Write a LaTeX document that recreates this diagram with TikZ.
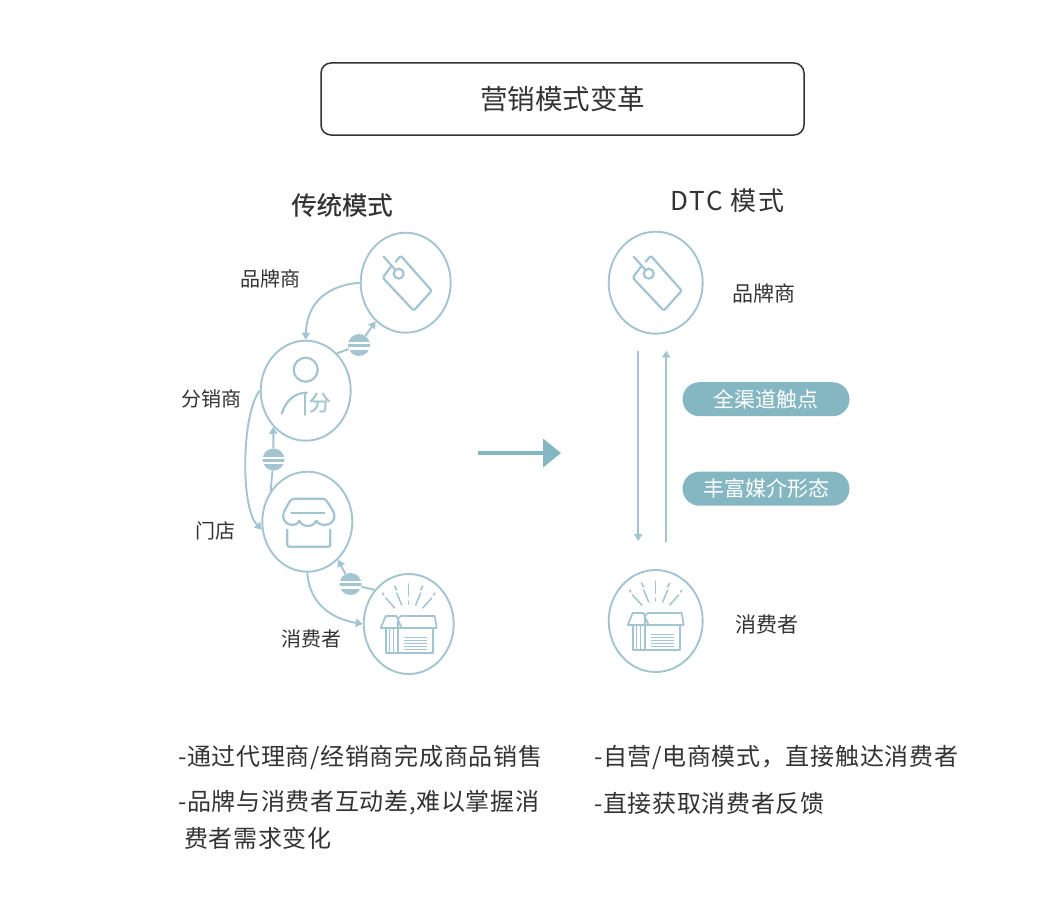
\documentclass[tikz,border=0pt]{standalone}
\usepackage{fontspec}
\setmainfont{Noto Sans CJK SC}
\newfontfamily\spaced[LetterSpace=2.8]{Noto Sans CJK SC}
\newfontfamily\wide[LetterSpace=7.3]{Noto Sans CJK SC}
\newfontfamily\fat[FakeBold=0.4]{Noto Sans CJK SC}
\usetikzlibrary{shapes.geometric,shapes.misc,arrows.meta,calc}
\definecolor{linecol}{HTML}{A3C4D1}
\definecolor{teal}{HTML}{85B7C2}
\definecolor{ink}{HTML}{333333}
\newcommand{\fs}[1]{\fontsize{#1}{#1}\selectfont}
\tikzset{
  disc/.style={ellipse,draw=linecol,line width=1.9pt,minimum width=90pt,minimum height=100pt,inner sep=0pt,fill=white},
  discR/.style={disc,minimum width=94pt,minimum height=102pt},
  conn/.style={draw=linecol,line width=1.9pt},
  head/.style={conn,-{Triangle[length=7pt,width=8pt]}},
  badge/.style={circle,fill=linecol,minimum size=22pt,inner sep=0pt,
    path picture={
      \begin{scope}[shift={(path picture bounding box.center)},rotate=#1]
      \fill[white] (-12pt,0.6pt) rectangle (12pt,2.9pt);
      \fill[white] (-12pt,-4.5pt) rectangle (12pt,-2.2pt);
      \end{scope}}},
  lab/.style={text=ink,inner sep=0pt,font=\fs{20}},
  labR/.style={text=ink,inner sep=0pt,font=\fs{21}},
  pill/.style={rounded rectangle,fill=teal,text=white,minimum width=167pt,minimum height=34pt,inner sep=0pt,font=\fs{21}},
  bodytxt/.style={text=ink,inner sep=0pt,anchor=west,font=\fs{24}\spaced},
  ic/.style={draw=linecol,line width=2.2pt,line join=round,line cap=round},
  icthin/.style={draw=linecol,line width=1.1pt,line join=round},
  tagicon/.pic={
    \draw[ic,rounded corners=1.5pt] (-14,-17) -- (-23,-5) -- (8,28) -- (26,8) -- (-5,-27) -- (-10,-21);
    \draw[ic] (-7,-9) circle (5);
    \draw[ic] (-22,-26) -- (-10.5,-13);
  },
  personicon/.pic={
    \draw[ic] (0,-21) circle (12);
    \draw[ic] (-24,23) .. controls (-20,10) and (-11,2) .. (1,2);
    \draw[ic] (-1,3) -- (-1,24);
    \node[inner sep=0pt,text=linecol,font=\fs{22}\fat] (fen) at (14,12) {分};
  },
  storeicon/.pic={
    \draw[ic,rounded corners=3pt] (-24,-4) -- (-24,-9) -- (-16,-23) -- (18,-23) -- (27,-9) -- (27,-4);
    \draw[ic] (-24,-4) .. controls (-22,5) and (-10,5) .. (-8,-1)
      .. controls (-5,6) and (6,6) .. (9,-1) .. controls (12,5) and (25,5) .. (27,-4);
    \draw[ic] (-16,-9) -- (17,-9);
    \draw[ic,rounded corners=2pt] (-20,8) -- (-20,25) -- (23,25) -- (23,8);
  },
  boxicon/.pic={
    \foreach \s in {1,-1}{
      \draw[ic,line width=1.5pt] (\s*14,-38) -- (\s*12,-34);
      \draw[ic,line width=1.5pt] (\s*12,-31) -- (\s*7,-19);
      \draw[ic,line width=1.5pt] (\s*26,-31) -- (\s*25,-29);
      \draw[ic,line width=1.5pt] (\s*23,-26) -- (\s*14,-16);
    }
    \draw[ic,line width=1.5pt] (0,-40) -- (0,-28);
    \draw[ic,line width=1.5pt] (0,-23) -- (0,-20);
    \draw[ic,line width=1.7pt] (-28,4) -- (-23,-8) -- (-12,-8) -- (-11,-5) -- (-7,4) -- cycle;
    \draw[ic,line width=1.7pt] (-11,-5) -- (-8,-8) -- (26,-8) -- (28,4) -- (-7,4);
    \draw[ic,line width=1.7pt] (-23,4) -- (-23,29) -- (24,29) -- (24,4);
    \draw[ic,line width=1.7pt] (-11,-5) -- (-11,29);
    \draw[icthin] (-19,4) -- (-19,29) (-15,4) -- (-15,29);
    \foreach \y in {13,16,19,22,25}{\draw[icthin,line width=0.9pt] (-5,\y) -- (18,\y);}
  }
}
\begin{document}
\begin{tikzpicture}[x=1pt,y=-1pt]
\useasboundingbox (0,0) rectangle (1060,899);
\fill[white] (0,0) rectangle (1060,899);

% title
\node[draw=ink,line width=1.5pt,rounded corners=10pt,minimum width=483pt,minimum height=72pt,inner sep=0pt,text=ink,font=\fs{27.5}] (title) at (562.5,99) {营销模式变革};
\node[text=ink,inner sep=0pt,font=\fs{25.3}\fat] (ltitle) at (342,205) {传统模式};
\node[text=ink,inner sep=0pt,font=\fs{26}\wide] (rtitle) at (727.5,200.5) {DTC 模式};

% left circles
\node[disc] (bl) at (405.7,282.7) {};
\node[disc] (dl) at (305.7,390.7) {};
\node[disc] (sl) at (307.3,521.7) {};
\node[disc] (cl) at (408.7,624) {};
\pic at (bl) {tagicon};
\pic at (dl) {personicon};
\pic at (sl) {storeicon};
\pic at (cl) {boxicon};

% badges
\node[badge=-8] (b1) at (359,345) {};
\node[badge=8] (b2) at (273.5,459.5) {};
\node[badge=30] (b3) at (350.5,584) {};

% left connectors
\draw[head] (bl.west) .. controls +(-35,3) and +(1,-35) .. (dl.north);
\draw[conn] (dl.50) -- (b1);
\draw[head] (b1) -- (bl.232);
\draw[conn] (sl.140) -- (b2);
\draw[head] (b2) -- (dl.228);
\draw[head] (dl.west) .. controls +(-18,22) and +(-22,-22) .. (sl.190);
\draw[head] (sl.south) .. controls +(2,32) and +(-30,-5) .. (cl.west);
\draw[conn] (cl.135) -- (b3);
\draw[head] (b3) -- (sl.-51);

% left labels
\node[lab] (l1) at (270,279) {品牌商};
\node[lab] (l2) at (211,399) {分销商};
\node[lab] (l3) at (215,531) {门店};
\node[lab] (l4) at (311,639) {消费者};

% centre arrow
\coordinate (as) at (478,453);
\coordinate (ae) at (561,453);
\draw[draw=teal,fill=teal,line width=4pt,-{Triangle[length=18pt,width=28pt]}] (as) -- (ae);

% right
\node[discR] (br) at (655.7,282.7) {};
\node[discR] (cr) at (655.7,621) {};
\pic at (br) {tagicon};
\pic at (cr) {boxicon};
\draw[head,shorten <=16pt,shorten >=28pt] ([xshift=-17.5pt]br.south) -- ([xshift=-17.5pt]cr.north);
\draw[head,shorten <=27pt,shorten >=16pt] ([xshift=10.5pt]cr.north) -- ([xshift=10.5pt]br.south);
\node[labR] (r1) at (764,293) {品牌商};
\node[labR] (r2) at (767,625) {消费者};
\node[pill] (p1) at (766,399.2) {全渠道触点};
\node[pill] (p2) at (766,488.7) {丰富媒介形态};

% bottom text
\node[bodytxt] (t1) at (178,757.5) {-通过代理商/经销商完成商品销售};
\node[bodytxt] (t2) at (178,803) {-品牌与消费者互动差,难以掌握消};
\node[bodytxt] (t3) at (184,838) {费者需求变化};
\node[bodytxt] (t4) at (594,757.5) {-自营/电商模式，直接触达消费者};
\node[bodytxt] (t5) at (594,803) {-直接获取消费者反馈};
\end{tikzpicture}
\end{document}
